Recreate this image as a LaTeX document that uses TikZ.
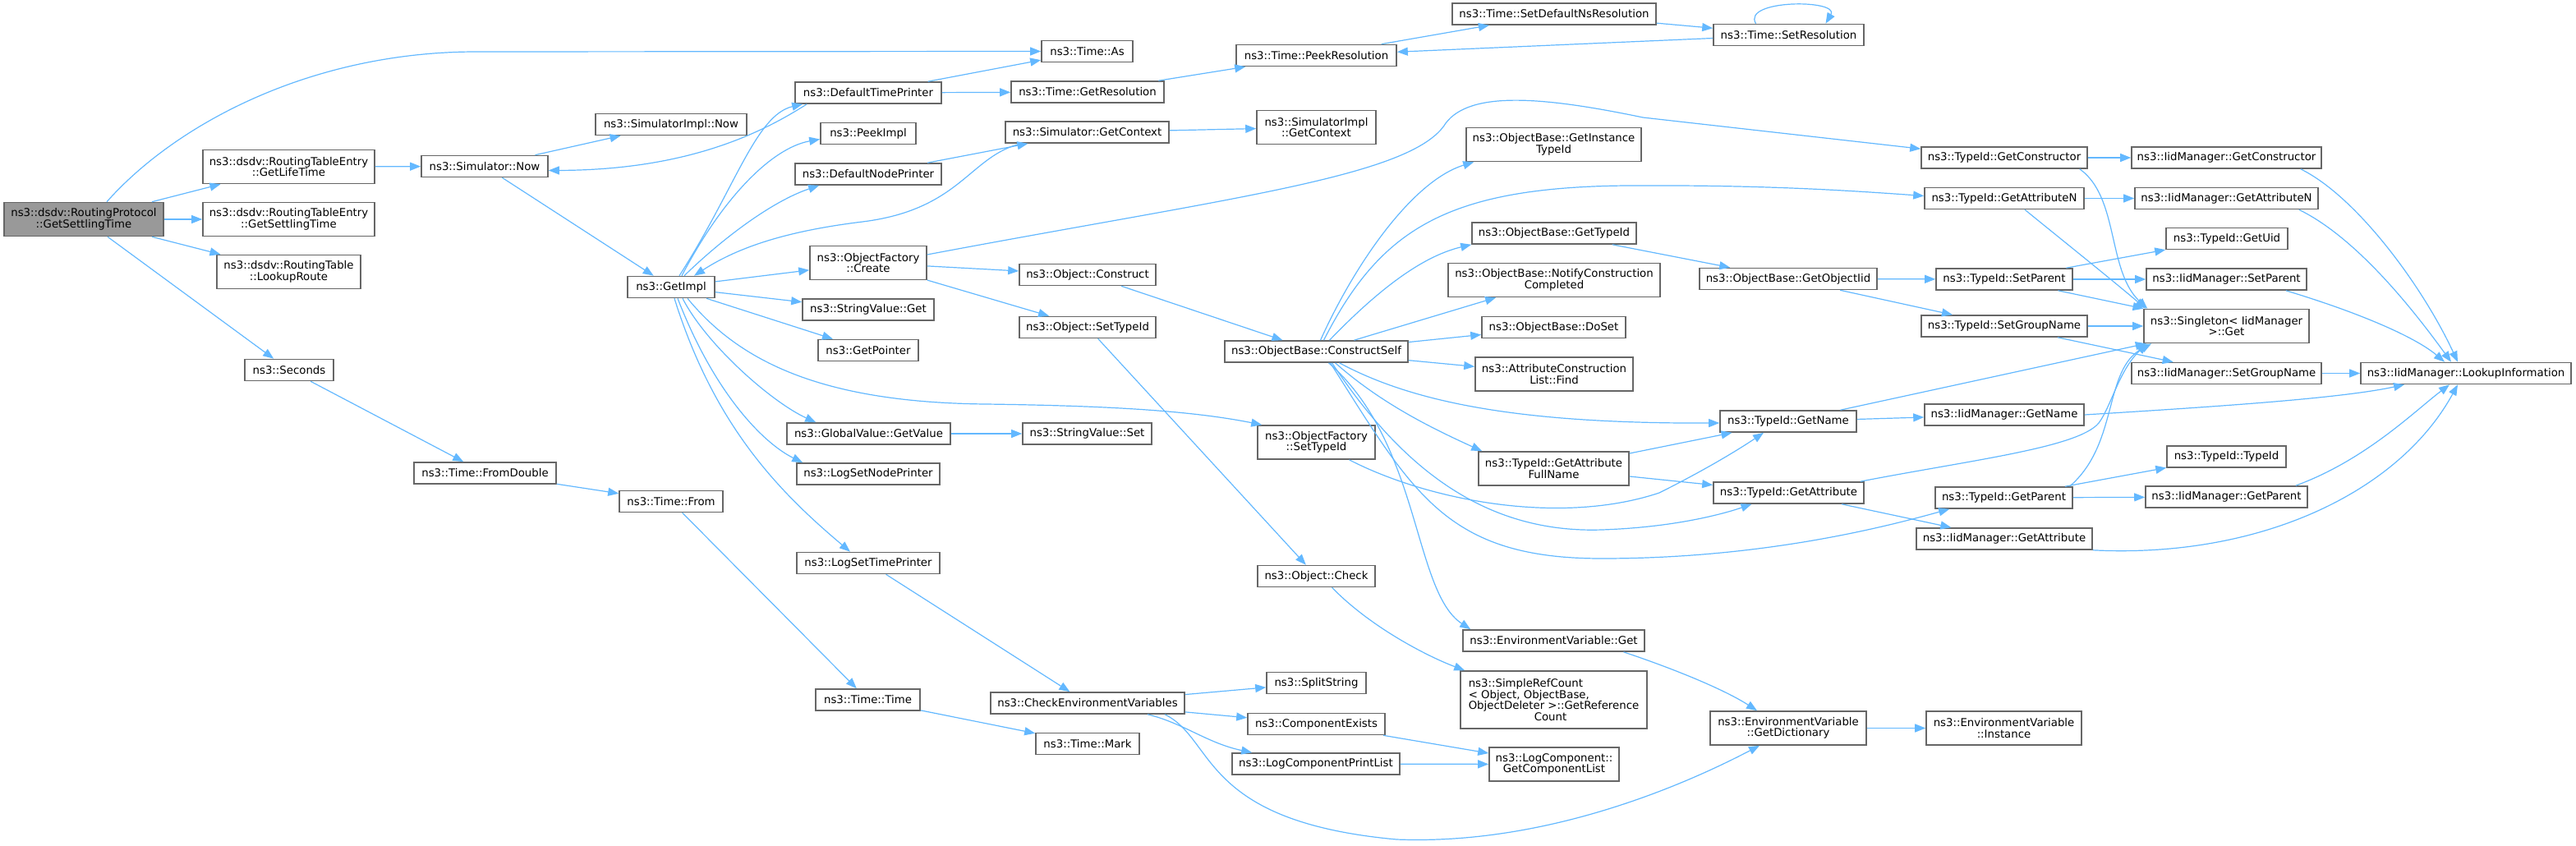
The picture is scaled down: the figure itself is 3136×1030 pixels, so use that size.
\documentclass[tikz,border=0pt]{standalone}
\usepackage{fontspec}
\setmainfont{DejaVu Sans}
\usepackage{tikz}
\usetikzlibrary{arrows.meta}
\definecolor{edgeblue}{HTML}{63B8FF}
\definecolor{boxline}{HTML}{666666}
\definecolor{rootfill}{HTML}{999999}
\tikzset{
  fn/.style={draw=boxline, fill=white, line width=1.6pt, inner sep=0pt, minimum height=26, align=center, font=\fontsize{13.3}{13.6}\selectfont},
  fn2/.style={fn, minimum height=41},
  root/.style={fn2, fill=rootfill},
  call/.style={draw=edgeblue, line width=1.2pt, -{Triangle[length=13pt,width=10pt]}}
}
\begin{document}
\begin{tikzpicture}[x=1pt, y=-1pt]
    \useasboundingbox (0,0) rectangle (3136,1030);

    \node[root, minimum width=194] (rp) at (102,267) {ns3::dsdv::RoutingProtocol\\::GetSettlingTime};
    \node[fn2, minimum width=209] (lifetime) at (351.5,203) {ns3::dsdv::RoutingTableEntry\\::GetLifeTime};
    \node[fn2, minimum width=209] (rtesettle) at (351.5,267) {ns3::dsdv::RoutingTableEntry\\::GetSettlingTime};
    \node[fn2, minimum width=175] (lookup) at (351.5,331) {ns3::dsdv::RoutingTable\\::LookupRoute};
    \node[fn, minimum width=108] (seconds) at (352,450.5) {ns3::Seconds};
    \node[fn, minimum width=154] (simnow) at (590,202.5) {ns3::Simulator::Now};
    \node[fn, minimum width=173] (fromdouble) at (590.5,576) {ns3::Time::FromDouble};
    \node[fn, minimum width=184] (implnow) at (817,151.5) {ns3::SimulatorImpl::Now};
    \node[fn, minimum width=106] (getimpl) at (817,349.5) {ns3::GetImpl};
    \node[fn, minimum width=126] (from) at (817,610.5) {ns3::Time::From};

    \node[fn, minimum width=178] (dtp) at (1057,113) {ns3::DefaultTimePrinter};
    \node[fn, minimum width=116] (peekimpl) at (1057,162.5) {ns3::PeekImpl};
    \node[fn, minimum width=178] (dnp) at (1057,212) {ns3::DefaultNodePrinter};
    \node[fn2, minimum width=142] (create) at (1057,320) {ns3::ObjectFactory\\::Create};
    \node[fn, minimum width=160] (svget) at (1057,377) {ns3::StringValue::Get};
    \node[fn, minimum width=122] (getptr) at (1057,426.5) {ns3::GetPointer};
    \node[fn, minimum width=199] (gvget) at (1057.5,528) {ns3::GlobalValue::GetValue};
    \node[fn, minimum width=174] (lognode) at (1057,577) {ns3::LogSetNodePrinter};
    \node[fn, minimum width=174] (logtime) at (1057,685.5) {ns3::LogSetTimePrinter};
    \node[fn, minimum width=127] (timetime) at (1056.5,852) {ns3::Time::Time};

    \node[fn, minimum width=111] (as) at (1323.5,62.5) {ns3::Time::As};
    \node[fn, minimum width=186] (getres) at (1324,112) {ns3::Time::GetResolution};
    \node[fn, minimum width=199] (simctx) at (1323.5,161) {ns3::Simulator::GetContext};
    \node[fn, minimum width=166] (construct) at (1324,334.5) {ns3::Object::Construct};
    \node[fn, minimum width=166] (objsettid) at (1324,398.5) {ns3::Object::SetTypeId};
    \node[fn, minimum width=157] (svset) at (1323.5,528) {ns3::StringValue::Set};
    \node[fn, minimum width=236] (checkenv) at (1324,856) {ns3::CheckEnvironmentVariables};
    \node[fn, minimum width=126] (mark) at (1324,905.5) {ns3::Time::Mark};

    \node[fn, minimum width=195] (peekres) at (1602.5,67.5) {ns3::Time::PeekResolution};
    \node[fn2, minimum width=145] (implctx) at (1602.5,155) {ns3::SimulatorImpl\\::GetContext};
    \node[fn, minimum width=223] (cself) at (1602.5,428) {ns3::ObjectBase::ConstructSelf};
    \node[fn2, minimum width=143] (ofsettid) at (1602.5,538.5) {ns3::ObjectFactory\\::SetTypeId};
    \node[fn, minimum width=143] (check) at (1602.5,701.5) {ns3::Object::Check};
    \node[fn, minimum width=121] (split) at (1602.5,831.5) {ns3::SplitString};
    \node[fn, minimum width=167] (compexists) at (1602.5,881.5) {ns3::ComponentExists};
    \node[fn, minimum width=204] (printlist) at (1602,930) {ns3::LogComponentPrintList};

    \node[fn, minimum width=248] (setdef) at (1892,17) {ns3::Time::SetDefaultNsResolution};
    \node[fn2, minimum width=213] (instid) at (1891.5,176) {ns3::ObjectBase::GetInstance\\TypeId};
    \node[fn, minimum width=200] (gettid) at (1892,284) {ns3::ObjectBase::GetTypeId};
    \node[fn2, minimum width=258] (notify) at (1892,341) {ns3::ObjectBase::NotifyConstruction\\Completed};
    \node[fn, minimum width=175] (doset) at (1891.5,398.5) {ns3::ObjectBase::DoSet};
    \node[fn2, minimum width=192] (find) at (1892,455.5) {ns3::AttributeConstruction\\List::Find};
    \node[fn2, minimum width=183] (attrfull) at (1891.5,570.5) {ns3::TypeId::GetAttribute\\FullName};
    \node[fn, minimum width=221] (envget) at (1891.5,780) {ns3::EnvironmentVariable::Get};
    \node[fn, minimum width=227, minimum height=70, align=left] (refcount) at (1891.5,852) {ns3::SimpleRefCount\\< Object, ObjectBase,\\ObjectDeleter >::GetReference\\\hspace*{80pt}Count};
    \node[fn2, minimum width=158] (complist) at (1892,930.5) {ns3::LogComponent::\\GetComponentList};

    \node[fn, minimum width=183] (setres) at (2177.5,42.5) {ns3::Time::SetResolution};
    \node[fn, minimum width=216] (getiid) at (2177,339.5) {ns3::ObjectBase::GetObjectIid};
    \node[fn, minimum width=166] (getname) at (2177,513) {ns3::TypeId::GetName};
    \node[fn, minimum width=183] (getattr) at (2177.5,600) {ns3::TypeId::GetAttribute};
    \node[fn2, minimum width=190] (getdict) at (2177,886.5) {ns3::EnvironmentVariable\\::GetDictionary};

    \node[fn, minimum width=202] (tgetctor) at (2440,192) {ns3::TypeId::GetConstructor};
    \node[fn, minimum width=194] (tgetattrn) at (2440,241.5) {ns3::TypeId::GetAttributeN};
    \node[fn, minimum width=166] (tsetparent) at (2440,340) {ns3::TypeId::SetParent};
    \node[fn, minimum width=202] (tsetgroup) at (2440,397) {ns3::TypeId::SetGroupName};
    \node[fn, minimum width=194] (igetname) at (2440,505) {ns3::IidManager::GetName};
    \node[fn, minimum width=167] (tgetparent) at (2439.5,606) {ns3::TypeId::GetParent};
    \node[fn, minimum width=214] (igetattr) at (2440,656) {ns3::IidManager::GetAttribute};
    \node[fn2, minimum width=189] (instance) at (2439.5,886.5) {ns3::EnvironmentVariable\\::Instance};

    \node[fn, minimum width=231] (igetctor) at (2710.5,192) {ns3::IidManager::GetConstructor};
    \node[fn, minimum width=223] (igetattrn) at (2710.5,241.5) {ns3::IidManager::GetAttributeN};
    \node[fn, minimum width=148] (getuid) at (2711,290.5) {ns3::TypeId::GetUid};
    \node[fn, minimum width=195] (isetparent) at (2710.5,340) {ns3::IidManager::SetParent};
    \node[fn2, minimum width=201] (singleton) at (2710.5,397) {ns3::Singleton< IidManager\\>::Get};
    \node[fn, minimum width=231] (isetgroup) at (2710.5,454.5) {ns3::IidManager::SetGroupName};
    \node[fn, minimum width=145] (typeid) at (2710.5,556) {ns3::TypeId::TypeId};
    \node[fn, minimum width=197] (igetparent) at (2710.5,605) {ns3::IidManager::GetParent};
    \node[fn, minimum width=256] (lookupinfo) at (3002,454.5) {ns3::IidManager::LookupInformation};

    \draw[call] ([xshift=28]rp.north) .. controls (215,150) and (380,63) .. (580,63) -- (as.west);
    \draw[call] (rp) -- (lifetime);
    \draw[call] (rp) -- (rtesettle);
    \draw[call] (rp) -- (lookup);
    \draw[call] (rp) -- (seconds);

    \draw[call] (lifetime) -- (simnow);
    \draw[call] (simnow) -- (implnow);
    \draw[call] (simnow) -- (getimpl);
    \draw[call] ([xshift=15]dtp.south west) .. controls (930,160) and (840,207) .. ([yshift=-5]simnow.east);
    \draw[call] ([xshift=10]getimpl.north) .. controls (895,230) and (920,140) .. ([xshift=10]dtp.south west);
    \draw[call] ([xshift=13]getimpl.north) .. controls (880,240) and (940,180) .. ([yshift=-7]peekimpl.west);
    \draw[call] ([xshift=16]getimpl.north) .. controls (880,290) and (940,245) .. ([xshift=30]dnp.south west);
    \draw[call] ([xshift=20]simctx.south west) .. controls (1180,190) and (1170,255) .. (1050,270) .. controls (960,281) and (900,300) .. ([xshift=28]getimpl.north);
    \draw[call] (dnp) -- (simctx);
    \draw[call] (dtp) -- (as);
    \draw[call] (dtp) -- (getres);
    \draw[call] (getres) -- (peekres);
    \draw[call] (simctx) -- (implctx);
    \draw[call] (peekres) -- (setdef);
    \draw[call] (setdef) -- (setres);
    \draw[call] (setres) -- (peekres);
    \draw[call] ([xshift=-40]setres.north) .. controls (2120,-1) and (2240,-1) .. ([xshift=45]setres.north);

    \draw[call] (getimpl) -- (create);
    \draw[call] (getimpl) -- (svget);
    \draw[call] (getimpl) -- (getptr);
    \draw[call] ([xshift=14]getimpl.south) .. controls (860,420) and (940,490) .. ([xshift=36]gvget.north west);
    \draw[call] ([xshift=8]getimpl.south) .. controls (870,480) and (930,540) .. ([xshift=8]lognode.north west);
    \draw[call] ([xshift=4]getimpl.south) .. controls (870,520) and (950,600) .. ([xshift=-22]logtime.north);
    \draw[call] ([xshift=20]getimpl.south) .. controls (900,440) and (1000,490) .. (1200,492) .. controls (1350,494) and (1450,500) .. ([xshift=6]ofsettid.north west);
    \draw[call] (gvget) -- (svset);

    \draw[call] ([yshift=10]create.east) .. controls (1500,240) and (1720,215) .. (1760,150) .. controls (1790,110) and (1880,118) .. (2000,143) -- ([yshift=-3]tgetctor.north west);
    \draw[call] (create) -- (construct);
    \draw[call] (create) -- (objsettid);
    \draw[call] (construct) -- (cself);
    \draw[call] (objsettid) -- (check);
    \draw[call] ([xshift=19]check.south) .. controls (1670,765) and (1740,800) .. ([xshift=6]refcount.north west);

    \draw[call] ([xshift=5]cself.north) .. controls (1650,320) and (1720,220) .. ([xshift=10]instid.south west);
    \draw[call] ([xshift=9]cself.north) .. controls (1680,280) and (1760,228) .. (1980,226) .. controls (2150,225) and (2250,232) .. ([yshift=3]tgetattrn.west);
    \draw[call] ([xshift=16]cself.north) .. controls (1690,340) and (1740,310) .. (gettid.south west);
    \draw[call] (cself) -- (notify);
    \draw[call] (cself) -- (doset);
    \draw[call] (cself) -- (find);
    \draw[call] ([xshift=28]cself.south) .. controls (1720,490) and (1850,516) .. ([yshift=-2]getname.west);
    \draw[call] ([xshift=23]cself.south) .. controls (1680,490) and (1740,520) .. ([xshift=5]attrfull.north west);
    \draw[call] ([xshift=19]cself.south) .. controls (1700,560) and (1800,650) .. (1950,645) .. controls (2040,642) and (2100,625) .. ([xshift=-45]getattr.south);
    \draw[call] ([xshift=17]cself.south) .. controls (1720,600) and (1760,680) .. (1950,680) .. controls (2150,680) and (2300,640) .. ([xshift=18]tgetparent.south west);
    \draw[call] ([xshift=15]cself.south) .. controls (1730,540) and (1720,720) .. ([xshift=10]envget.north west);

    \draw[call] (gettid) -- (getiid);
    \draw[call] (getiid) -- (tsetparent);
    \draw[call] (getiid) -- (tsetgroup);
    \draw[call] ([xshift=40]ofsettid.south) .. controls (1740,610) and (1900,640) .. (2020,600) .. controls (2080,570) and (2120,545) .. ([xshift=-30]getname.south);
    \draw[call] (attrfull) -- (getname);
    \draw[call] (attrfull) -- (getattr);
    \draw[call] (getname) -- (singleton);
    \draw[call] (getname) -- (igetname);
    \draw[call] ([xshift=-5]getattr.north east) .. controls (2400,560) and (2530,545) .. (2555,515) .. controls (2570,495) and (2580,450) .. ([xshift=5]singleton.south west);
    \draw[call] (getattr) -- (igetattr);
    \draw[call] ([xshift=80]tgetparent.north) .. controls (2580,540) and (2560,450) .. ([xshift=10]singleton.south west);
    \draw[call] (tgetparent) -- (typeid);
    \draw[call] (tgetparent) -- (igetparent);
    \draw[call] (tgetctor) -- (igetctor);
    \draw[call] ([xshift=-10]tgetctor.south east) .. controls (2580,240) and (2565,330) .. ([xshift=5]singleton.north west);
    \draw[call] (tgetattrn) -- (igetattrn);
    \draw[call] ([xshift=25]tgetattrn.south) .. controls (2520,300) and (2570,340) .. ([xshift=3]singleton.north west);
    \draw[call] (tsetparent) -- (getuid);
    \draw[call] (tsetparent) -- (isetparent);
    \draw[call] (tsetparent) -- (singleton);
    \draw[call] (tsetgroup) -- (singleton);
    \draw[call] (tsetgroup) -- (isetgroup);
    \draw[call] ([xshift=-26]igetctor.south east) .. controls (2870,240) and (2950,350) .. ([xshift=-10]lookupinfo.north);
    \draw[call] ([xshift=-24]igetattrn.south east) .. controls (2870,290) and (2940,380) .. ([xshift=-18]lookupinfo.north);
    \draw[call] ([xshift=-26]isetparent.south east) .. controls (2870,380) and (2940,410) .. ([xshift=-26]lookupinfo.north);
    \draw[call] (isetgroup) -- (lookupinfo);
    \draw[call] (igetname.east) .. controls (2700,495) and (2850,485) .. ([xshift=-75]lookupinfo.south);
    \draw[call] ([xshift=-15]igetparent.north east) .. controls (2880,560) and (2940,500) .. ([xshift=-20]lookupinfo.south);
    \draw[call] (igetattr.south east) .. controls (2750,680) and (2920,600) .. ([xshift=-10]lookupinfo.south);

    \draw[call] (seconds) -- (fromdouble);
    \draw[call] (fromdouble) -- (from);
    \draw[call] (from) -- (timetime);
    \draw[call] (timetime) -- (mark);
    \draw[call] (logtime) -- (checkenv);
    \draw[call] (checkenv) -- (split);
    \draw[call] (checkenv) -- (compexists);
    \draw[call] ([xshift=73]checkenv.south) .. controls (1440,880) and (1470,905) .. ([xshift=25]printlist.north west);
    \draw[call] ([xshift=94]checkenv.south) .. controls (1480,900) and (1460,1000) .. (1700,1022) .. controls (1900,1030) and (2080,940) .. ([xshift=-35]getdict.south);
    \draw[call] (compexists) -- (complist);
    \draw[call] (printlist) -- (complist);
    \draw[call] ([xshift=85]envget.south) .. controls (2040,815) and (2100,840) .. ([xshift=-38]getdict.north);
    \draw[call] (getdict) -- (instance);
\end{tikzpicture}
\end{document}
